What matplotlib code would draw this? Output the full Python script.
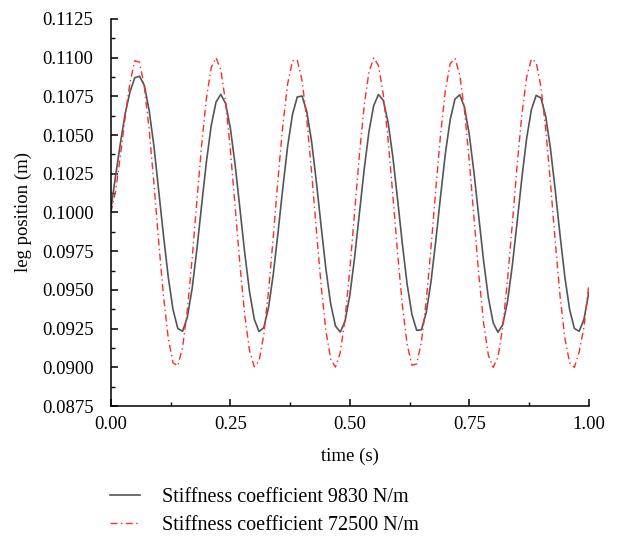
import numpy as np
from matplotlib import pyplot as plt
from matplotlib.ticker import MultipleLocator

plt.rcParams.update(
    {
        "font.family": ["Liberation Serif", "DejaVu Serif"],
        "font.size": 13.5,
        "axes.linewidth": 1.1,
    }
)

# sampled every 0.01 s
time_s = np.round(np.arange(0, 101) * 0.01, 2)

leg_9830 = [
    0.1002, 0.1024, 0.1045, 0.1064, 0.1078, 0.1087, 0.1088, 0.1082, 0.1066, 0.1043,
    0.10142, 0.09853, 0.09584, 0.09373, 0.09251, 0.09233, 0.09324, 0.09509, 0.09764, 0.10051,
    0.10330, 0.10562, 0.10713, 0.10763, 0.10704, 0.10545, 0.10308, 0.10026, 0.09741, 0.09491,
    0.09312, 0.09231, 0.09257, 0.09388, 0.09605, 0.09877, 0.10165, 0.10430, 0.10633, 0.10746,
    0.10752, 0.10651, 0.10458, 0.10198, 0.09910, 0.09634, 0.09409, 0.09267, 0.09228, 0.09298,
    0.09465, 0.09709, 0.09993, 0.10276, 0.10521, 0.10690, 0.10762, 0.10724, 0.10584, 0.10360,
    0.10084, 0.09796, 0.09536, 0.09341, 0.09239, 0.09243, 0.09354, 0.09556, 0.09820, 0.10108,
    0.10381, 0.10599, 0.10732, 0.10760, 0.10680, 0.10503, 0.10254, 0.09969, 0.09687, 0.09449,
    0.09288, 0.09227, 0.09275, 0.09425, 0.09656, 0.09934, 0.10221, 0.10477, 0.10664, 0.10756,
    0.10740, 0.10620, 0.10410, 0.10142, 0.09853, 0.09584, 0.09373, 0.09251, 0.09233, 0.09310,
    0.09480,
]

leg_72500 = [
    0.1000, 0.1014, 0.1037, 0.1062, 0.1084, 0.1098, 0.10970, 0.10811, 0.10537, 0.10188,
    0.09811, 0.09462, 0.09189, 0.09030, 0.09009, 0.09128, 0.09370, 0.09702, 0.10076, 0.10439,
    0.10740, 0.10936, 0.11000, 0.10922, 0.10713, 0.10404, 0.10037, 0.09665, 0.09341, 0.09110,
    0.09004, 0.09040, 0.09212, 0.09495, 0.09850, 0.10226, 0.10570, 0.10833, 0.10979, 0.10985,
    0.10853, 0.10600, 0.10261, 0.09886, 0.09527, 0.09235, 0.09051, 0.09002, 0.09094, 0.09314,
    0.09631, 0.10001, 0.10370, 0.10687, 0.10907, 0.10998, 0.10949, 0.10764, 0.10472, 0.10113,
    0.09738, 0.09400, 0.09147, 0.09014, 0.09022, 0.09168, 0.09431, 0.09776, 0.10152, 0.10506,
    0.10789, 0.10960, 0.10995, 0.10890, 0.10658, 0.10334, 0.09961, 0.09595, 0.09286, 0.09078,
    0.09000, 0.09064, 0.09261, 0.09562, 0.09925, 0.10299, 0.10631, 0.10873, 0.10991, 0.10970,
    0.10811, 0.10537, 0.10187, 0.09811, 0.09461, 0.09190, 0.09030, 0.09000, 0.09100, 0.09260,
    0.09530,
]

labels = ["Stiffness coefficient 9830 N/m", "Stiffness coefficient 72500 N/m"]

fig = plt.figure(figsize=(6.23, 5.40), dpi=100)
ax = fig.add_axes([0.178, 0.248, 0.767, 0.717])

ax.plot(time_s, leg_9830, color="#555555", linewidth=1.2, label=labels[0])
ax.plot(time_s, leg_72500, color="#ff2a2a", linewidth=1.0,
        dashes=(5, 2.5, 1, 2.5), label=labels[1])

ax.set_xlim(0, 1)
ax.set_ylim(0.0875, 0.1125)
ax.xaxis.set_major_locator(MultipleLocator(0.25))
ax.xaxis.set_minor_locator(MultipleLocator(0.125))
ax.yaxis.set_major_locator(MultipleLocator(0.0025))
ax.yaxis.set_minor_locator(MultipleLocator(0.00125))
ax.xaxis.set_major_formatter(lambda v, p: f"{v:.2f}")
ax.yaxis.set_major_formatter(lambda v, p: f"{v:.4f}")
ax.tick_params(which="major", direction="in", length=5, width=1.1)
ax.tick_params(which="minor", direction="in", length=3, width=1.0)
ax.tick_params(axis="y", which="major", pad=12.5)
ax.tick_params(axis="x", which="major", pad=7.5)
ax.spines["top"].set_visible(False)
ax.spines["right"].set_visible(False)

ax.set_xlabel("time (s)", labelpad=10)
ax.set_ylabel("leg position (m)", labelpad=7)

fig.legend(
    loc="upper left",
    bbox_to_anchor=(0.148, 0.13),
    frameon=False,
    fontsize=14.5,
    handlelength=1.45,
    handletextpad=1.1,
    labelspacing=0.45,
)

fig.savefig("out.png", dpi=100)
